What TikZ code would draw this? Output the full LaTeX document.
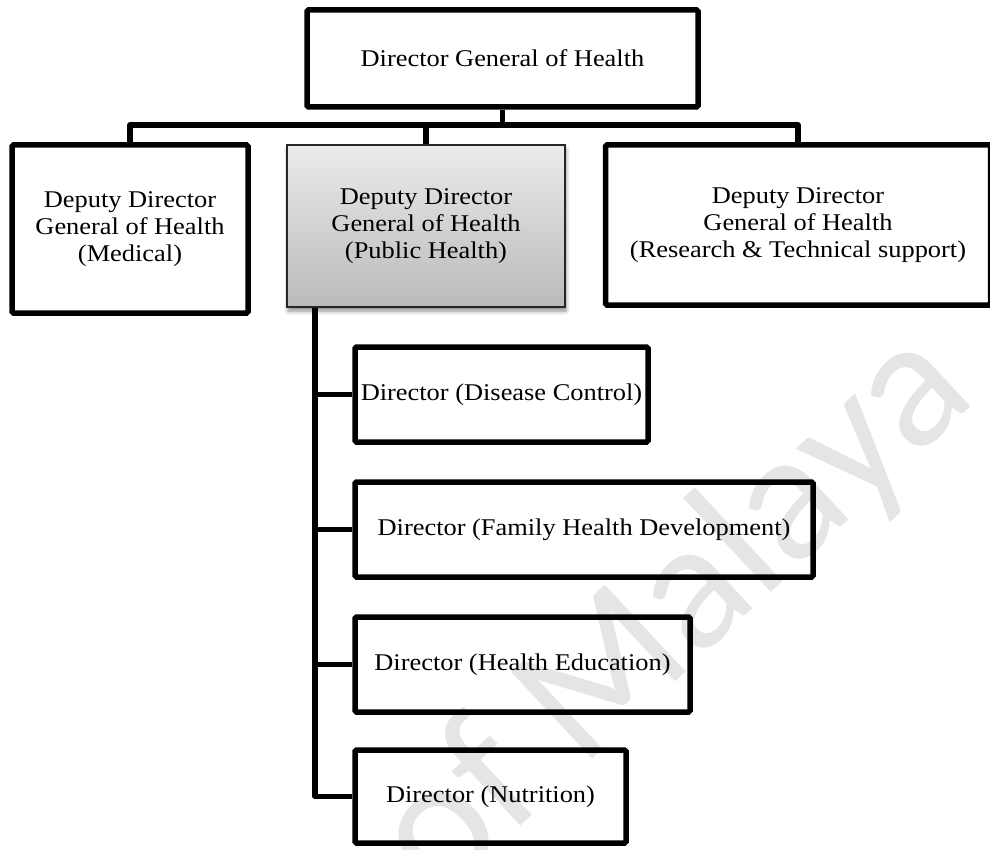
\documentclass[tikz,border=0pt]{standalone}
\usepackage{fontspec}
\setmainfont{Liberation Serif}[FakeStretch=1.1]
\newfontfamily\markfont{Carlito}
\usetikzlibrary{shadows.blur}

\tikzset{
  orgbox/.style={draw=black, line width=5.5pt, rounded corners=1.5pt,
    inner sep=0pt, align=center, font=\fontsize{24}{27}\selectfont},
  headbox/.style={draw=black!85, line width=1.5pt, inner sep=0pt, align=center,
    top color=black!8, bottom color=black!27,
    font=\fontsize{24}{27}\selectfont,
    blur shadow={shadow xshift=1pt, shadow yshift=-4pt,
      shadow blur radius=4pt, shadow opacity=45}},
  conn/.style={draw=black, line width=5.5pt, line join=round},
  watermark/.style={text=black!10, font=\markfont\fontsize{185}{185}\selectfont,
    inner sep=0pt}
}

\begin{document}
\begin{tikzpicture}[x=1pt,y=-1pt]
  \useasboundingbox (0,0) rectangle (990,850);

  % faint watermark behind the chart
  \node[watermark, rotate=43] (wm) at (675,615) {of Malaya};

  % top level
  \node[orgbox, minimum width=391pt, minimum height=97pt] (dg) at (502.5,58.5)
    {Director General of Health};

  % deputies
  \node[orgbox, minimum width=236pt, minimum height=168pt] (dm) at (130,229)
    {Deputy Director\\General of Health\\(Medical)};
  \node[headbox, minimum width=278pt, minimum height=162pt] (dph) at (426,226)
    {Deputy Director\\General of Health\\(Public Health)};
  \node[orgbox, minimum width=385pt, minimum height=160pt] (drt) at (798,225)
    {Deputy Director\\General of Health\\(Research \& Technical support)};

  % directors under public health
  \node[orgbox, minimum width=293pt, minimum height=95pt] (ddc) at (501.5,394.5)
    {Director (Disease Control)};
  \node[orgbox, minimum width=458pt, minimum height=95pt] (dfh) at (584,529.5)
    {Director (Family Health Development)};
  \node[orgbox, minimum width=335pt, minimum height=95pt] (dhe) at (522.5,664.5)
    {Director (Health Education)};
  \node[orgbox, minimum width=271pt, minimum height=93pt] (dn) at (490.5,796.5)
    {Director (Nutrition)};

  % connector bus and trunk
  \coordinate (bus) at (0,125);
  \coordinate (trunk) at (315,0);

  \draw[conn] (dg.south) -- (dg.south |- bus);
  \draw[conn] (dm.north) |- (drt.north |- bus) -- (drt.north);
  \draw[conn] (dph.north) -- (dph.north |- bus);

  \draw[conn] (dph.south -| trunk) |- (dn.west);
  \draw[conn] (trunk |- ddc.west) -- (ddc.west);
  \draw[conn] (trunk |- dfh.west) -- (dfh.west);
  \draw[conn] (trunk |- dhe.west) -- (dhe.west);
\end{tikzpicture}
\end{document}
